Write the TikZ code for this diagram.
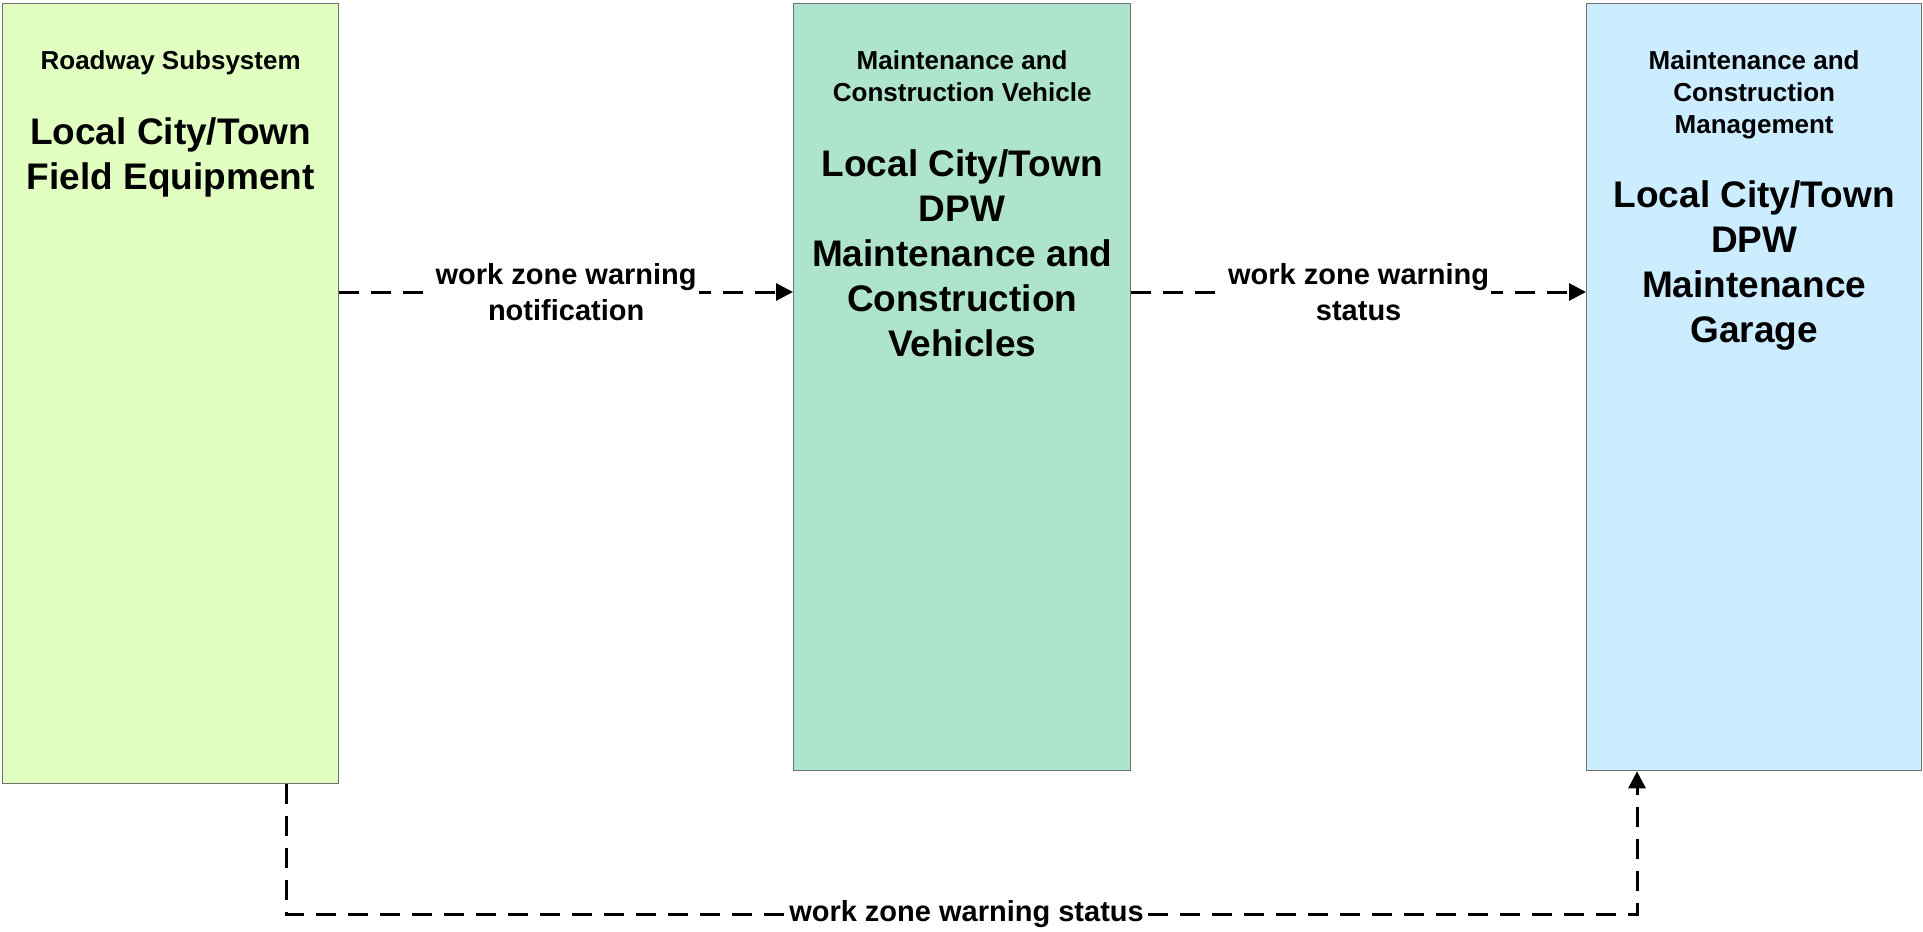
\documentclass[tikz,border=0pt]{standalone}
\usepackage{fontspec}
\setmainfont{Liberation Sans}
\usetikzlibrary{arrows.meta,positioning}

\definecolor{fieldgreen}{HTML}{E0FFC0}
\definecolor{vehiclegreen}{HTML}{AEE4CC}
\definecolor{garageblue}{HTML}{CCECFF}
\definecolor{boxframe}{HTML}{707070}

\tikzset{
    sysbox/.style={draw=boxframe, line width=1.3pt, anchor=north west, inner sep=0pt},
    classtext/.style={anchor=north, align=center, inner sep=0pt,
        font=\fontsize{26pt}{32pt}\selectfont\bfseries},
    nametext/.style={anchor=north, align=center, inner sep=0pt,
        font=\fontsize{37pt}{45pt}\selectfont\bfseries},
    flow/.style={line width=3pt, dash pattern=on 20pt off 12pt,
        -{Triangle[length=17pt, width=17pt]}},
    flowlabel/.style={fill=white, align=center, inner sep=2pt,
        font=\fontsize{29pt}{36pt}\selectfont\bfseries}
}

\begin{document}
\begin{tikzpicture}[x=1pt, y=-1pt]
        \useasboundingbox (0,0) rectangle (1923,932);
        % the three systems
        \node[sysbox, fill=fieldgreen, minimum width=336pt, minimum height=780pt] (rsfe) at (2,3) {};
        \node[sysbox, fill=vehiclegreen, minimum width=337pt, minimum height=767pt] (mcv) at (793,3) {};
        \node[sysbox, fill=garageblue, minimum width=335pt, minimum height=767pt] (mcm) at (1586,3) {};
        % class and element names
        \node[classtext] (rsfe-cls) at ([yshift=-47.5pt]rsfe.north) {Roadway Subsystem};
        \node[nametext] (rsfe-name) at ([yshift=-114.5pt]rsfe.north) {Local City/Town\\Field Equipment};
        \node[classtext] (mcv-cls) at ([yshift=-47.5pt]mcv.north) {Maintenance and\\Construction Vehicle};
        \node[nametext] (mcv-name) at ([yshift=-146.5pt]mcv.north) {Local City/Town\\DPW\\Maintenance and\\Construction\\Vehicles};
        \node[classtext] (mcm-cls) at ([yshift=-47.5pt]mcm.north) {Maintenance and\\Construction\\Management};
        \node[nametext] (mcm-name) at ([yshift=-177pt]mcm.north) {Local City/Town\\DPW\\Maintenance\\Garage};
        % flows
        \coordinate (flowrow) at (0,292);
        \coordinate (loopL) at (286,914);
        \coordinate (loopR) at (1637,914);
        \draw[flow] (flowrow -| rsfe.east) -- (flowrow -| mcv.west)
            node[midway, flowlabel] {work zone warning\\notification};
        \draw[flow] (flowrow -| mcv.east) -- (flowrow -| mcm.west)
            node[midway, flowlabel] {work zone warning\\status};
        \draw[flow] (loopL |- rsfe.south) -- (loopL) -- (loopR)
            node[midway, flowlabel, xshift=5pt] {work zone warning status} -- (loopR |- mcm.south);
    \end{tikzpicture}
\end{document}
